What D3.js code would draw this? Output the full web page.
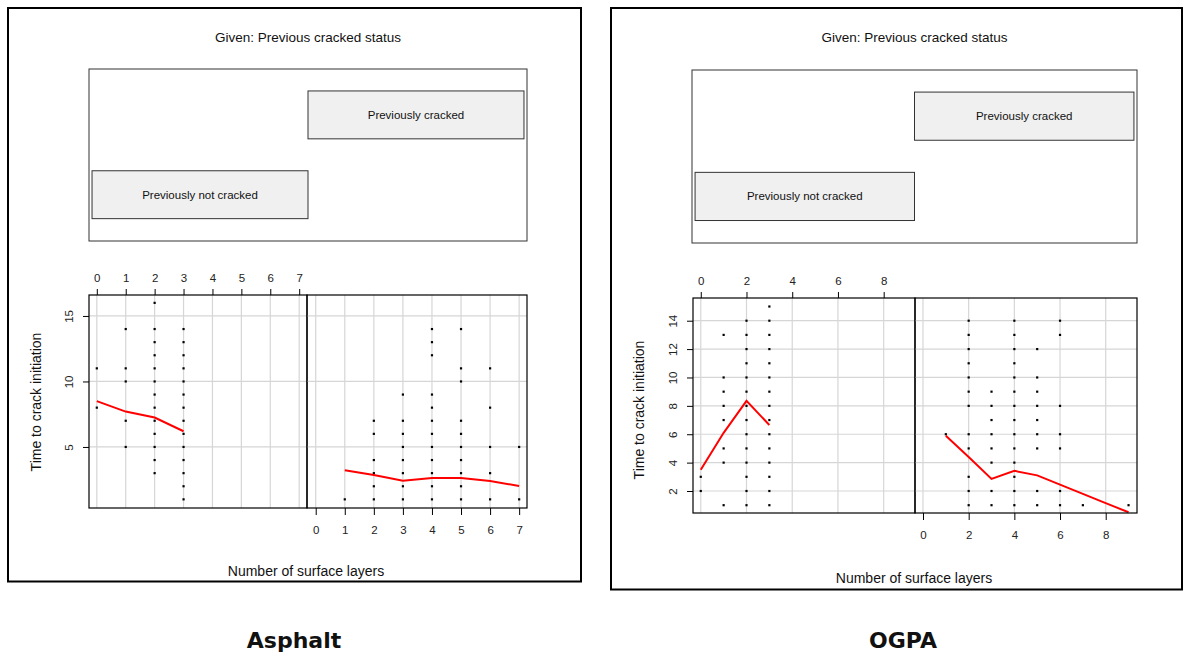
<!DOCTYPE html>
<html>
<head>
<meta charset="utf-8">
<script src="https://cdn.jsdelivr.net/npm/d3@7/dist/d3.min.js"></script>
<style>
  body { margin: 0; background: #fff; }
  svg { display: block; font-family: "Liberation Sans", Arial, sans-serif; }
</style>
</head>
<body>
<svg id="chart" width="1183" height="657"></svg>
<script>
// ---- conditioning levels and tick labels ----
const givenLevels = ["Previously not cracked", "Previously cracked"];
const givenTitle = "Given: Previous cracked status";
const xTitle = "Number of surface layers";
const yTitle = "Time to crack initiation";

const asphaltLayerTicks = [0, 1, 2, 3, 4, 5, 6, 7];
const asphaltTimeTicks = [5, 10, 15];
const ogpaLayerTicks = [0, 2, 4, 6, 8];
const ogpaTimeTicks = [2, 4, 6, 8, 10, 12, 14];

// ---- observations: time to crack initiation by number of surface layers ----
const asphaltNotCracked = [
  { layers: 0, times: [11, 8] },
  { layers: 1, times: [14, 11, 10, 7, 5] },
  { layers: 2, times: [16, 14, 13, 12, 11, 10, 9, 8, 7, 6, 5, 4, 3] },
  { layers: 3, times: [14, 13, 12, 11, 10, 9, 8, 7, 6, 5, 4, 3, 2, 1] }
];
const asphaltCracked = [
  { layers: 1, times: [1] },
  { layers: 2, times: [7, 6, 4, 3, 2, 1] },
  { layers: 3, times: [9, 7, 6, 5, 4, 3, 2, 1] },
  { layers: 4, times: [14, 13, 12, 9, 8, 7, 6, 5, 4, 3, 2, 1] },
  { layers: 5, times: [14, 11, 10, 7, 6, 5, 4, 3, 2, 1] },
  { layers: 6, times: [11, 8, 5, 3, 1] },
  { layers: 7, times: [5, 1] }
];
const ogpaNotCracked = [
  { layers: 0, times: [3, 2] },
  { layers: 1, times: [13, 10, 9, 8, 7, 5, 4, 1] },
  { layers: 2, times: [14, 13, 12, 11, 10, 9, 8, 7, 6, 5, 4, 3, 2, 1] },
  { layers: 3, times: [15, 14, 13, 12, 11, 10, 9, 8, 7, 6, 5, 4, 3, 2, 1] }
];
const ogpaCracked = [
  { layers: 1, times: [6] },
  { layers: 2, times: [14, 13, 12, 11, 10, 9, 8, 6, 5, 3, 2, 1] },
  { layers: 3, times: [9, 8, 7, 6, 5, 4, 2, 1] },
  { layers: 4, times: [14, 13, 12, 11, 10, 9, 8, 7, 6, 5, 4, 3, 2, 1] },
  { layers: 5, times: [12, 10, 9, 8, 7, 6, 5, 2, 1] },
  { layers: 6, times: [14, 13, 8, 6, 5, 2, 1] },
  { layers: 7, times: [1] },
  { layers: 9, times: [1] }
];

// ---- smoothed trend per panel ----
const asphaltNotCrackedTrendX = [0, 1, 2, 3];
const asphaltNotCrackedTrendY = [8.5, 7.7, 7.25, 6.2];
const asphaltCrackedTrendX = [1, 2, 3, 4, 5, 6, 7];
const asphaltCrackedTrendY = [3.22, 2.86, 2.43, 2.63, 2.63, 2.4, 2.02];
const ogpaNotCrackedTrendX = [0, 1, 2, 3];
const ogpaNotCrackedTrendY = [3.5, 6.1, 8.35, 6.65];
const ogpaCrackedTrendX = [1, 2, 3, 4, 5, 6, 7, 8, 9];
const ogpaCrackedTrendY = [5.9, 4.4, 2.85, 3.42, 3.1, 2.45, 1.8, 1.15, 0.5];

const svg = d3.select("#chart");
const GRID = "#d6d6d6";

function drawFigure(spec) {
  const g = svg.append("g");
  const L = spec.layout;

  // outer frame
  g.append("rect")
    .attr("x", L.frame[0]).attr("y", L.frame[1])
    .attr("width", L.frame[2] - L.frame[0]).attr("height", L.frame[3] - L.frame[1])
    .attr("fill", "none").attr("stroke", "#000").attr("stroke-width", 2);

  // ---- given panel ----
  const gb = L.given;
  const gx = d3.scaleLinear().domain([0.486, 2.514]).range([gb[0], gb[2]]);
  const gy = d3.scaleLinear().domain([0.42, 2.575]).range([gb[3], gb[1]]);
  g.append("text")
    .attr("x", (gb[0] + gb[2]) / 2).attr("y", L.titleY)
    .attr("text-anchor", "middle").attr("font-size", 13.5).attr("fill", "#111")
    .text(givenTitle);
  g.append("rect")
    .attr("x", gb[0]).attr("y", gb[1]).attr("width", gb[2] - gb[0]).attr("height", gb[3] - gb[1])
    .attr("fill", "none").attr("stroke", "#333").attr("stroke-width", 1);
  const bars = g.selectAll("g.level").data(givenLevels).join("g").attr("class", "level");
  bars.append("rect")
    .attr("x", (d, i) => gx(i + 0.5))
    .attr("width", (d, i) => gx(i + 1.5) - gx(i + 0.5))
    .attr("y", (d, i) => gy(i + 1 + 0.3))
    .attr("height", (d, i) => gy(i + 1 - 0.3) - gy(i + 1 + 0.3))
    .attr("fill", "#f0f0f0").attr("stroke", "#333").attr("stroke-width", 1);
  bars.append("text")
    .attr("x", (d, i) => gx(i + 1))
    .attr("y", (d, i) => gy(i + 1))
    .attr("dy", "0.35em")
    .attr("text-anchor", "middle").attr("font-size", 11.5).attr("fill", "#111")
    .text(d => d);

  // ---- scatter panels ----
  const y = d3.scaleLinear().domain(spec.yDomain).range([L.panelY[1], L.panelY[0]]);
  spec.panels.forEach((p, idx) => {
    const x = d3.scaleLinear().domain(p.xDomain).range(p.xRange);
    const pg = g.append("g");

    // grid
    pg.selectAll("line.vg").data(spec.xTicks).join("line")
      .attr("x1", d => x(d)).attr("x2", d => x(d))
      .attr("y1", L.panelY[0]).attr("y2", L.panelY[1])
      .attr("stroke", GRID).attr("stroke-width", 1.2);
    pg.selectAll("line.hg").data(spec.yTicks).join("line")
      .attr("x1", p.xRange[0]).attr("x2", p.xRange[1])
      .attr("y1", d => y(d)).attr("y2", d => y(d))
      .attr("stroke", GRID).attr("stroke-width", 1.2);

    // points
    const pts = p.data.flatMap(c => c.times.map(t => ({ x: c.layers, y: t })));
    pg.selectAll("rect.pt").data(pts).join("rect")
      .attr("x", d => x(d.x) - 1.1).attr("y", d => y(d.y) - 1.1)
      .attr("width", 2.2).attr("height", 2.2).attr("fill", "#000");

    // trend
    const line = d3.line().x(d => x(d[0])).y(d => y(d[1]));
    pg.append("path")
      .datum(d3.zip(p.trendX, p.trendY))
      .attr("d", line).attr("fill", "none")
      .attr("stroke", "#ff0000").attr("stroke-width", 2);

    // border
    pg.append("rect")
      .attr("x", p.xRange[0]).attr("y", L.panelY[0])
      .attr("width", p.xRange[1] - p.xRange[0]).attr("height", L.panelY[1] - L.panelY[0])
      .attr("fill", "none").attr("stroke", "#000").attr("stroke-width", 1.2);

    // axes
    if (idx === 0) {
      const ax = pg.append("g").attr("transform", `translate(0,${L.panelY[0]})`)
        .call(d3.axisTop(x).tickValues(spec.xTicks).tickSize(6).tickPadding(7).tickFormat(d3.format("d")));
      styleAxis(ax);
      const ay = pg.append("g").attr("transform", `translate(${p.xRange[0]},0)`)
        .call(d3.axisLeft(y).tickValues(spec.yTicks).tickSize(6).tickFormat(d3.format("d")));
      styleAxis(ay);
      ay.selectAll(".tick text")
        .attr("x", null).attr("dy", null)
        .attr("text-anchor", "middle")
        .attr("transform", "translate(-16,0) rotate(-90)");
    } else {
      const ax = pg.append("g").attr("transform", `translate(0,${L.panelY[1]})`)
        .call(d3.axisBottom(x).tickValues(spec.xTicks).tickSize(7).tickPadding(11).tickFormat(d3.format("d")));
      styleAxis(ax);
    }
  });

  // axis titles
  g.append("text")
    .attr("x", L.xTitle[0]).attr("y", L.xTitle[1])
    .attr("text-anchor", "middle").attr("font-size", 14).attr("fill", "#111")
    .text(xTitle);
  g.append("text")
    .attr("transform", `translate(${L.yTitle[0]},${L.yTitle[1]}) rotate(-90)`)
    .attr("text-anchor", "middle").attr("font-size", 14).attr("fill", "#111")
    .text(yTitle);

  // material caption
  g.append("text")
    .attr("x", L.caption[0]).attr("y", L.caption[1])
    .attr("text-anchor", "middle")
    .attr("font-family", "'DejaVu Sans', Verdana, sans-serif")
    .attr("font-weight", "bold").attr("font-size", 22).attr("fill", "#111")
    .text(spec.caption);
}

function styleAxis(a) {
  a.select(".domain").remove();
  a.selectAll(".tick line").attr("stroke", "#000").attr("stroke-width", 1);
  a.selectAll(".tick text").attr("font-size", 11.5).attr("fill", "#222")
    .attr("font-family", "'Liberation Sans', Arial, sans-serif");
}

drawFigure({
  caption: "Asphalt",
  xTicks: asphaltLayerTicks,
  yTicks: asphaltTimeTicks,
  yDomain: [0.34, 16.6],
  layout: {
    frame: [8, 8, 581, 581.5],
    given: [89, 69, 527, 241],
    titleY: 42,
    panelY: [295, 508],
    xTitle: [306, 576],
    yTitle: [41, 402],
    caption: [294, 648]
  },
  panels: [
    { data: asphaltNotCracked, trendX: asphaltNotCrackedTrendX, trendY: asphaltNotCrackedTrendY,
      xDomain: [-0.27, 7.27], xRange: [89, 307] },
    { data: asphaltCracked, trendX: asphaltCrackedTrendX, trendY: asphaltCrackedTrendY,
      xDomain: [-0.3, 7.27], xRange: [307, 527] }
  ]
});

drawFigure({
  caption: "OGPA",
  xTicks: ogpaLayerTicks,
  yTicks: ogpaTimeTicks,
  yDomain: [0.45, 15.6],
  layout: {
    frame: [611, 8, 1182, 589.5],
    given: [692, 70, 1137, 243],
    titleY: 42,
    panelY: [298, 513],
    xTitle: [914, 583],
    yTitle: [644, 410],
    caption: [903, 648]
  },
  panels: [
    { data: ogpaNotCracked, trendX: ogpaNotCrackedTrendX, trendY: ogpaNotCrackedTrendY,
      xDomain: [-0.34, 9.37], xRange: [693, 915] },
    { data: ogpaCracked, trendX: ogpaCrackedTrendX, trendY: ogpaCrackedTrendY,
      xDomain: [-0.35, 9.37], xRange: [915, 1137] }
  ]
});
</script>
</body>
</html>
